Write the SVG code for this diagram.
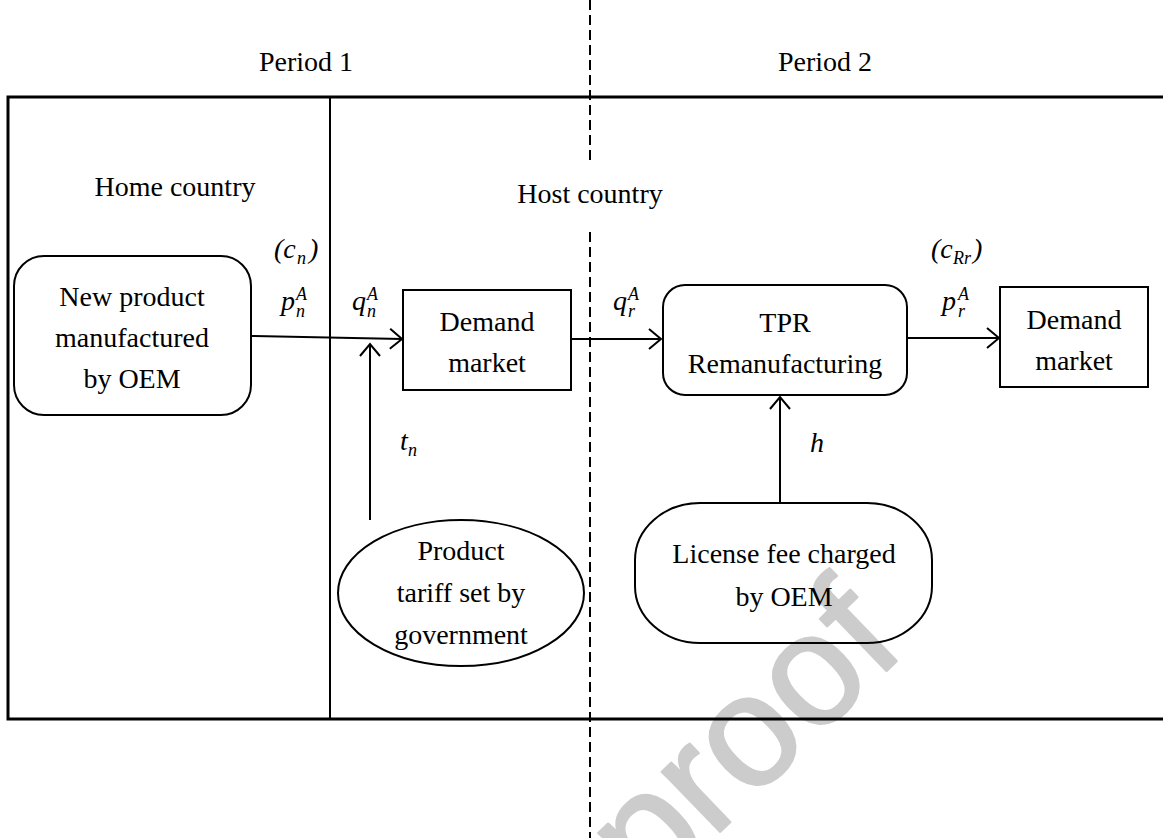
<svg xmlns="http://www.w3.org/2000/svg" width="1163" height="838" viewBox="0 0 1163 838">
<style>
.t{font-family:"Liberation Serif","Times New Roman",serif;font-size:28px;fill:#000;text-anchor:middle}
.m{font-family:"Liberation Serif","DejaVu Serif",serif;font-style:italic;font-size:28px;fill:#000}
.s{font-family:"Liberation Serif","DejaVu Serif",serif;font-style:italic;font-size:18px;fill:#000}
.shape{fill:none;stroke:#000;stroke-width:2}
.conn{fill:none;stroke:#000;stroke-width:2;marker-end:url(#arr)}
.dash{stroke:#000;stroke-width:2;stroke-dasharray:10 5}
</style>
<defs>
<marker id="arr" markerUnits="userSpaceOnUse" markerWidth="20" markerHeight="24" refX="15" refY="11" orient="auto">
<path d="M3,1 L15,11 L3,21" fill="none" stroke="#000" stroke-width="2"/>
</marker>
</defs>
<rect width="1163" height="838" fill="#fff"/>
<g id="watermark">
<text transform="translate(908,650) rotate(-44)" text-anchor="end" font-family="Liberation Sans, Arial, sans-serif" font-size="158" fill="#cccccc" stroke="#cccccc" stroke-width="2.5" stroke-linejoin="round">Pre-proof</text>
</g>
<g id="frame">
<path d="M1165,97 L8,97 L8,719 L1165,719" fill="none" stroke="#000" stroke-width="3"/>
<line x1="330" y1="97" x2="330" y2="719" stroke="#000" stroke-width="2"/>
<line class="dash" x1="590" y1="0" x2="590" y2="162"/>
<line class="dash" x1="590" y1="232" x2="590" y2="838"/>
</g>
<g id="labels">
<text class="t" x="306" y="71">Period 1</text>
<text class="t" x="825" y="71">Period 2</text>
<text class="t" x="175" y="196">Home country</text>
<text class="t" x="590" y="203">Host country</text>
</g>
<g id="n_new">
<rect class="shape" x="14" y="256" width="237" height="159" rx="30"/>
<text class="t" x="132" y="306">New product</text>
<text class="t" x="132" y="347">manufactured</text>
<text class="t" x="132" y="388">by OEM</text>
</g>
<g id="n_demand1">
<rect class="shape" x="403" y="290" width="168" height="100"/>
<text class="t" x="487" y="331">Demand</text>
<text class="t" x="487" y="372">market</text>
</g>
<g id="n_tpr">
<rect class="shape" x="663" y="285" width="244" height="110" rx="22"/>
<text class="t" x="785" y="332">TPR</text>
<text class="t" x="785" y="373">Remanufacturing</text>
</g>
<g id="n_demand2">
<rect class="shape" x="1000" y="287" width="148" height="100"/>
<text class="t" x="1074" y="329">Demand</text>
<text class="t" x="1074" y="370">market</text>
</g>
<g id="n_tariff">
<ellipse class="shape" cx="461" cy="593" rx="123" ry="73"/>
<text class="t" x="461" y="560">Product</text>
<text class="t" x="461" y="602">tariff set by</text>
<text class="t" x="461" y="644">government</text>
</g>
<g id="n_license">
<path class="shape" d="M700,503 L867,503 A65,57 0 0 1 932,560 L932,586 A65,57 0 0 1 867,643 L700,643 A65,57 0 0 1 635,586 L635,560 A65,57 0 0 1 700,503 Z"/>
<text class="t" x="784" y="563">License fee charged</text>
<text class="t" x="784" y="606">by OEM</text>
</g>
<g id="connectors">
<line class="conn" x1="251" y1="336" x2="402" y2="339"/>
<line class="conn" x1="370" y1="520" x2="370" y2="344"/>
<line class="conn" x1="571" y1="339" x2="661" y2="339"/>
<line class="conn" x1="907" y1="338" x2="999" y2="338"/>
<line class="conn" x1="780" y1="503" x2="780" y2="397"/>
</g>
<g id="math">
<text class="m" x="274" y="258">(c</text>
<text class="s" x="297" y="264">n</text>
<text class="m" x="309" y="258">)</text>
<text class="m" x="281" y="310">p</text>
<text class="s" x="296" y="300">A</text>
<text class="s" x="296" y="317">n</text>
<text class="m" x="352" y="310">q</text>
<text class="s" x="367" y="300">A</text>
<text class="s" x="367" y="317">n</text>
<text class="m" x="613" y="310">q</text>
<text class="s" x="628" y="300">A</text>
<text class="s" x="628" y="317">r</text>
<text class="m" x="931" y="258">(c</text>
<text class="s" x="953" y="264">Rr</text>
<text class="m" x="973" y="258">)</text>
<text class="m" x="942" y="310">p</text>
<text class="s" x="958" y="300">A</text>
<text class="s" x="958" y="317">r</text>
<text class="m" x="400" y="450">t</text>
<text class="s" x="408" y="456">n</text>
<text class="m" x="810" y="452">h</text>
</g>
</svg>
